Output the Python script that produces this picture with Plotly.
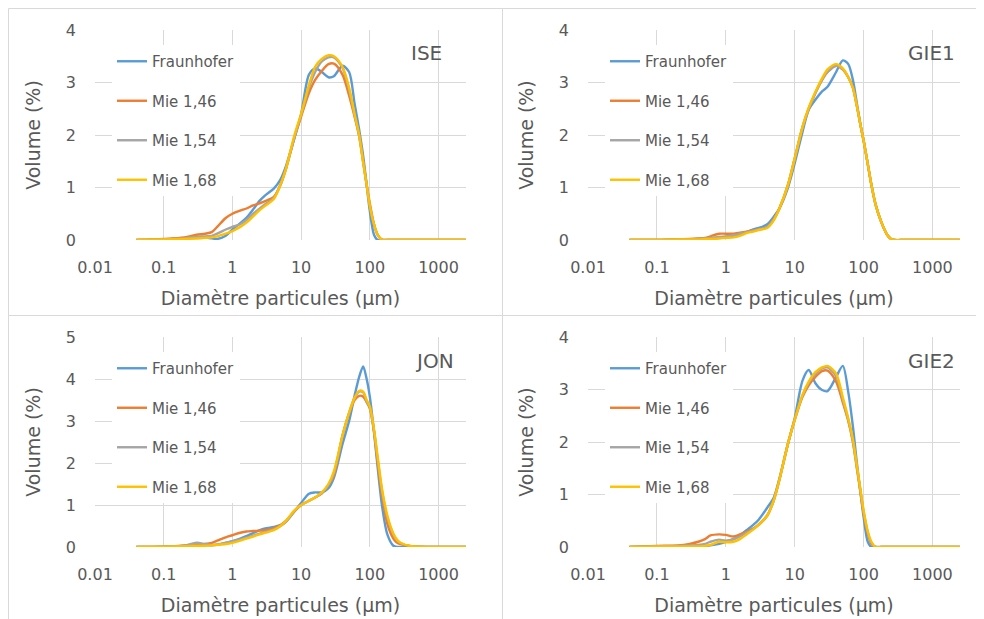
import plotly.graph_objects as go

# ---------------- data ----------------
DIAMETERS = [0.04, 0.1, 0.2, 0.3, 0.4, 0.5, 0.6, 0.8, 1, 1.3, 1.6, 2, 2.5, 3, 4, 5, 6, 8,
             10, 13, 16, 20, 25, 30, 40, 50, 60, 70, 80, 90,
             100, 115, 130, 150, 180, 220, 250, 280, 400, 1000, 2500]

SERIES_NAMES = ["Fraunhofer", "Mie 1,46", "Mie 1,54", "Mie 1,68"]
PANEL_NAMES = ["ISE", "GIE1", "JON", "GIE2"]

ISE_FRAUNHOFER = [0, 0.01, 0.03, 0.05, 0.05, 0.03, 0.02, 0.08, 0.2, 0.32, 0.42, 0.58, 0.75, 0.85, 0.98, 1.15, 1.4, 1.95,
                  2.4, 3.15, 3.27, 3.2, 3.1, 3.12, 3.32, 3.2, 2.6, 2.1, 1.6, 1.05,
                  0.55, 0.1, 0, 0, 0, 0, 0, 0, 0, 0, 0]
ISE_MIE_146 = [0, 0.02, 0.05, 0.1, 0.12, 0.15, 0.25, 0.42, 0.5, 0.56, 0.6, 0.66, 0.7, 0.74, 0.82, 1.05, 1.35, 1.95,
               2.35, 2.8, 3.05, 3.22, 3.35, 3.36, 3.15, 2.75, 2.35, 1.98, 1.5, 1.05,
               0.7, 0.3, 0.1, 0.01, 0, 0, 0, 0, 0, 0, 0]
ISE_MIE_154 = [0, 0.01, 0.03, 0.06, 0.07, 0.08, 0.12, 0.2, 0.25, 0.3, 0.38, 0.5, 0.6, 0.68, 0.8, 1.05, 1.35, 1.95,
               2.38, 2.9, 3.2, 3.4, 3.48, 3.48, 3.28, 2.85, 2.38, 1.98, 1.48, 1.05,
               0.65, 0.3, 0.1, 0, 0, 0, 0, 0, 0, 0, 0]
ISE_MIE_168 = [0, 0.01, 0.02, 0.03, 0.04, 0.05, 0.07, 0.12, 0.17, 0.25, 0.33, 0.45, 0.57, 0.65, 0.78, 1.05, 1.35, 2.0,
               2.4, 2.95, 3.3, 3.45, 3.52, 3.5, 3.3, 2.9, 2.4, 2.0, 1.48, 1.05,
               0.65, 0.3, 0.1, 0, 0, 0, 0, 0, 0, 0, 0]

GIE1_FRAUNHOFER = [0, 0, 0.01, 0.01, 0.02, 0.02, 0.03, 0.04, 0.05, 0.07, 0.1, 0.15, 0.2, 0.23, 0.3, 0.45, 0.6, 1.0,
                   1.46, 2.06, 2.48, 2.67, 2.83, 2.92, 3.2, 3.42, 3.35, 3.05, 2.6, 2.2,
                   1.9, 1.45, 1.05, 0.67, 0.35, 0.1, 0.02, 0, 0, 0, 0]
GIE1_MIE_146 = [0, 0, 0.01, 0.02, 0.03, 0.04, 0.07, 0.12, 0.12, 0.12, 0.14, 0.16, 0.18, 0.2, 0.25, 0.4, 0.6, 1.05,
                1.55, 2.15, 2.5, 2.8, 3.05, 3.2, 3.32, 3.25, 3.1, 2.9, 2.55, 2.2,
                1.9, 1.45, 1.05, 0.67, 0.35, 0.1, 0.02, 0, 0, 0, 0]
GIE1_MIE_154 = [0, 0, 0.01, 0.01, 0.02, 0.03, 0.04, 0.06, 0.07, 0.09, 0.12, 0.15, 0.18, 0.2, 0.25, 0.4, 0.6, 1.05,
                1.55, 2.15, 2.5, 2.8, 3.05, 3.2, 3.32, 3.25, 3.1, 2.9, 2.55, 2.2,
                1.9, 1.45, 1.05, 0.67, 0.35, 0.1, 0.02, 0, 0, 0, 0]
GIE1_MIE_168 = [0, 0, 0.01, 0.01, 0.01, 0.02, 0.02, 0.03, 0.04, 0.05, 0.08, 0.13, 0.16, 0.19, 0.23, 0.38, 0.6, 1.05,
                1.55, 2.15, 2.52, 2.82, 3.08, 3.25, 3.35, 3.27, 3.1, 2.9, 2.55, 2.2,
                1.9, 1.45, 1.05, 0.67, 0.35, 0.1, 0.02, 0, 0, 0, 0]

JON_FRAUNHOFER = [0, 0.01, 0.03, 0.07, 0.05, 0.04, 0.05, 0.1, 0.14, 0.2, 0.26, 0.33, 0.4, 0.44, 0.48, 0.52, 0.6, 0.85,
                  1.05, 1.27, 1.3, 1.3, 1.4, 1.65, 2.45, 3.0, 3.6, 4.05, 4.3, 4.0,
                  3.58, 2.75, 1.9, 1.0, 0.3, 0.03, 0, 0, 0, 0, 0]
JON_MIE_146 = [0, 0.01, 0.03, 0.05, 0.07, 0.1, 0.15, 0.23, 0.28, 0.34, 0.37, 0.38, 0.39, 0.4, 0.45, 0.52, 0.62, 0.85,
               1.0, 1.1, 1.18, 1.28, 1.48, 1.7, 2.65, 3.18, 3.5, 3.6, 3.58, 3.45,
               3.3, 2.75, 2.0, 1.25, 0.55, 0.2, 0.1, 0.07, 0.02, 0, 0]
JON_MIE_154 = [0, 0.01, 0.03, 0.1, 0.07, 0.05, 0.06, 0.1, 0.13, 0.18, 0.22, 0.27, 0.32, 0.36, 0.42, 0.5, 0.6, 0.85,
               1.0, 1.1, 1.18, 1.28, 1.48, 1.75, 2.65, 3.2, 3.55, 3.7, 3.68, 3.45,
               3.32, 2.78, 2.1, 1.35, 0.7, 0.3, 0.15, 0.09, 0.02, 0, 0]
JON_MIE_168 = [0, 0.01, 0.02, 0.03, 0.03, 0.04, 0.05, 0.07, 0.1, 0.15, 0.2, 0.25, 0.3, 0.34, 0.4, 0.5, 0.62, 0.87,
               1.0, 1.1, 1.18, 1.3, 1.5, 1.8, 2.65, 3.2, 3.55, 3.72, 3.7, 3.5,
               3.35, 2.8, 2.15, 1.4, 0.75, 0.32, 0.17, 0.1, 0.02, 0, 0]

GIE2_FRAUNHOFER = [0, 0.01, 0.01, 0.01, 0.01, 0.02, 0.03, 0.06, 0.1, 0.15, 0.22, 0.32, 0.42, 0.52, 0.75, 0.95, 1.3, 1.97,
                   2.45, 3.17, 3.37, 3.12, 2.99, 2.97, 3.24, 3.45, 2.95, 2.3, 1.6, 1.05,
                   0.58, 0.1, 0, 0, 0, 0, 0, 0, 0, 0, 0]
GIE2_MIE_146 = [0, 0.02, 0.03, 0.06, 0.1, 0.15, 0.22, 0.24, 0.23, 0.2, 0.24, 0.29, 0.35, 0.42, 0.6, 0.9, 1.28, 1.97,
                2.42, 2.86, 3.08, 3.24, 3.35, 3.36, 3.15, 2.75, 2.4, 2.0, 1.5, 1.05,
                0.64, 0.26, 0.06, 0, 0, 0, 0, 0, 0, 0, 0]
GIE2_MIE_154 = [0, 0.01, 0.02, 0.03, 0.04, 0.06, 0.1, 0.14, 0.12, 0.15, 0.2, 0.27, 0.35, 0.43, 0.6, 0.9, 1.28, 1.97,
                2.42, 2.88, 3.12, 3.3, 3.4, 3.42, 3.25, 2.8, 2.42, 2.02, 1.52, 1.08,
                0.68, 0.28, 0.08, 0, 0, 0, 0, 0, 0, 0, 0]
GIE2_MIE_168 = [0, 0.01, 0.01, 0.01, 0.01, 0.02, 0.04, 0.1, 0.09, 0.1, 0.15, 0.24, 0.33, 0.42, 0.6, 0.9, 1.28, 1.97,
                2.42, 2.9, 3.15, 3.33, 3.42, 3.45, 3.3, 2.85, 2.45, 2.05, 1.55, 1.1,
                0.7, 0.3, 0.1, 0, 0, 0, 0, 0, 0, 0, 0]

PANEL_DATA = [
    [ISE_FRAUNHOFER, ISE_MIE_146, ISE_MIE_154, ISE_MIE_168],
    [GIE1_FRAUNHOFER, GIE1_MIE_146, GIE1_MIE_154, GIE1_MIE_168],
    [JON_FRAUNHOFER, JON_MIE_146, JON_MIE_154, JON_MIE_168],
    [GIE2_FRAUNHOFER, GIE2_MIE_146, GIE2_MIE_154, GIE2_MIE_168],
]
Y_MAX = [4, 4, 5, 4]

X_TICK_VALUES = [0.01, 0.1, 1, 10, 100, 1000]
X_TICK_LABELS = ["0.01", "0.1", "1", "10", "100", "1000"]
X_TITLE = "Diamètre particules (µm)"
Y_TITLE = "Volume (%)"

# ---------------- style ----------------
COLORS = ["#5B9BD5", "#ED7D31", "#A5A5A5", "#FFC000"]
TEXT_COLOR = "#595959"
GRID_COLOR = "#D9D9D9"
FONT = "DejaVu Sans, sans-serif"
OFF = 8                     # page body margin
W, H = 984 - OFF, 619 - OFF

# plot-area boxes in page pixels: (left, right, top, bottom)
BOXES = [(95, 466, 30, 240), (588, 960, 30, 240), (95, 466, 337, 547), (588, 960, 337, 547)]
# panel frames in page pixels (left, right, top, bottom)
FRAMES = [(8.5, 502.5, 8.5, 315.5), (502.5, 990, 8.5, 315.5), (8.5, 502.5, 315.5, 625), (502.5, 990, 315.5, 625)]
LABEL_POS = [(444, 53), (957, 53), (456, 361), (957, 361)]


def fx(px):
    return (px - OFF) / W


def fy(py):
    return 1 - (py - OFF) / H


fig = go.Figure()
layout = dict(
    width=W, height=H,
    margin=dict(l=0, r=0, t=0, b=0),
    paper_bgcolor="white", plot_bgcolor="white",
    font=dict(family=FONT, color=TEXT_COLOR),
    shapes=[], annotations=[],
)

for i in range(4):
    n = "" if i == 0 else str(i + 1)
    xa, ya = "x" + n, "y" + n
    leg = "legend" + n
    for j, name in enumerate(SERIES_NAMES):
        fig.add_trace(go.Scatter(
            x=DIAMETERS, y=PANEL_DATA[i][j], name=name, mode="lines",
            line=dict(color=COLORS[j], width=2.4, shape="spline", smoothing=0.8),
            xaxis=xa, yaxis=ya, legend=leg, legendgroup=f"{i}-{j}",
            hoverinfo="skip",
        ))
    l, r, t, b = BOXES[i]
    layout["xaxis" + n] = dict(
        domain=[fx(l), fx(r)], anchor=ya, type="log", range=[-2, 3.4],
        tickmode="array", tickvals=X_TICK_VALUES, ticktext=X_TICK_LABELS,
        showgrid=True, gridcolor=GRID_COLOR, gridwidth=1, zeroline=False,
        showline=False, ticks="", ticklabelstandoff=16, automargin=False,
        tickfont=dict(size=16, color=TEXT_COLOR, family=FONT),
        title=dict(text=X_TITLE, font=dict(size=19, color=TEXT_COLOR, family=FONT), standoff=15),
        fixedrange=True,
    )
    layout["yaxis" + n] = dict(
        domain=[fy(b), fy(t)], anchor=xa, range=[0, Y_MAX[i]], dtick=1, tick0=0,
        showgrid=True, gridcolor=GRID_COLOR, gridwidth=1, zeroline=False,
        showline=False, ticks="", ticklabelstandoff=18, automargin=False,
        tickfont=dict(size=16, color=TEXT_COLOR, family=FONT),
        title=dict(text=Y_TITLE, font=dict(size=19, color=TEXT_COLOR, family=FONT), standoff=20),
        fixedrange=True,
    )
    layout[leg] = dict(
        x=fx(l + 17), y=fy(t + 15), xanchor="left", yanchor="top",
        bgcolor="white", borderwidth=0, tracegroupgap=17, itemwidth=30,
        font=dict(size=15, color=TEXT_COLOR, family=FONT),
        traceorder="grouped", itemclick=False, itemdoubleclick=False,
    )
    fl, fr, ft, fb = FRAMES[i]
    layout["shapes"].append(dict(
        type="rect", xref="paper", yref="paper",
        x0=fx(fl), x1=fx(fr), y0=fy(fb), y1=fy(ft),
        line=dict(color=GRID_COLOR, width=1), fillcolor="rgba(0,0,0,0)", layer="below",
    ))
    lx, ly = LABEL_POS[i]
    layout["annotations"].append(dict(
        text=PANEL_NAMES[i], xref="paper", yref="paper", x=fx(lx), y=fy(ly),
        xanchor="right", yanchor="middle", showarrow=False,
        font=dict(size=20, color=TEXT_COLOR, family=FONT),
    ))

fig.update_layout(**layout)
fig.write_html("out.html")
